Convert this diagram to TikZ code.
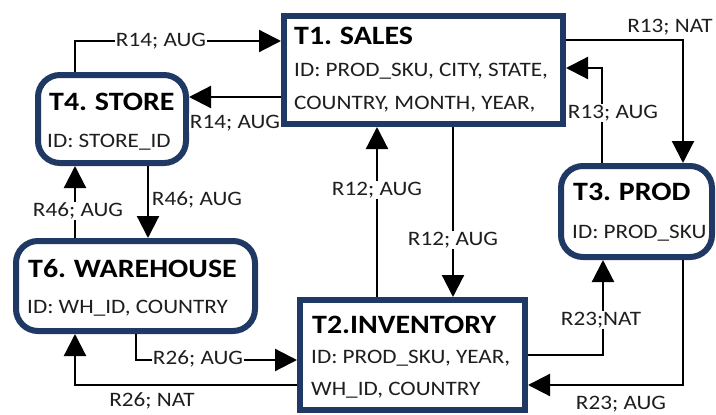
\documentclass[tikz,border=0pt]{standalone}
\usepackage{fontspec}
\setmainfont{Carlito}[FakeStretch=1.13]
\usetikzlibrary{arrows.meta}
\definecolor{boxblue}{RGB}{31,56,100}
\definecolor{txt}{RGB}{30,30,30}
\newcommand\myttlfont{\fontsize{26.5}{30}\selectfont\bfseries\spaceskip 5.5pt\relax}
\tikzset{
  tbox/.style={draw=boxblue, line width=6pt, fill=white, inner sep=0pt, minimum width=#1},
  sqbox/.style={tbox=#1},
  rdbox/.style={tbox=#1, rounded corners=22pt},
  ttl/.style={anchor=base west, inner sep=0pt, font=\myttlfont, text=black},
  idt/.style={anchor=base west, inner sep=0pt, font=\fontsize{20.5}{24}\selectfont, text=txt},
  lbl/.style={fill=white, inner sep=1pt, font=\fontsize{20.5}{24}\selectfont, text=txt},
  conn/.style={line width=2.2pt, draw=black, -{Triangle[length=22pt,width=22pt]}},
}
\begin{document}
\begin{tikzpicture}[x=1pt,y=-1pt]
\useasboundingbox (0,0) rectangle (716,415);
% boxes
\node[sqbox=279pt, minimum height=108pt] (t1) at (423.5,70) {};
\node[rdbox=148pt, minimum height=88pt] (t4) at (112,119) {};
\node[rdbox=239pt, minimum height=90pt] (t6) at (135.5,286) {};
\node[sqbox=225pt, minimum height=110pt] (t2) at (412.5,355) {};
\node[rdbox=151pt, minimum height=91pt] (t3) at (636.5,211.5) {};
% texts
\node[ttl] (t1a) at (294,45) {T1. SALES};
\node[idt] (t1b) at (294,76) {ID: PROD\_SKU, CITY, STATE,};
\node[idt] (t1c) at (294,109) {COUNTRY, MONTH, YEAR,};
\node[ttl] (t4a) at (49,110) {T4. STORE};
\node[idt] (t4b) at (47,147) {ID: STORE\_ID};
\node[ttl] (t6a) at (28,277) {T6. WAREHOUSE};
\node[idt] (t6b) at (27,313) {ID: WH\_ID, COUNTRY};
\node[ttl] (t2a) at (312,333) {T2.INVENTORY};
\node[idt] (t2b) at (311,363) {ID: PROD\_SKU, YEAR,};
\node[idt] (t2c) at (311,395) {WH\_ID, COUNTRY};
\node[ttl] (t3a) at (573,200) {T3. PROD};
\node[idt] (t3b) at (572,238) {ID: PROD\_SKU};
% bend coordinates
\coordinate (c1) at (75,41);
\coordinate (c2) at (188,97);
\coordinate (c3) at (683,40);
\coordinate (c4) at (602,68);
\coordinate (c5) at (377,200);
\coordinate (c6) at (453,200);
\coordinate (c7) at (603,355);
\coordinate (c8) at (683,385);
\coordinate (c9) at (75,200);
\coordinate (c10) at (148,200);
\coordinate (c11) at (136,360);
\coordinate (c12) at (75,385);
% connectors
\draw[conn] (t4.north -| c1) |- (t1.west |- c1);
\draw[conn] (t1.west |- c2) -- (t4.east |- c2);
\draw[conn] (t1.east |- c3) -| (t3.north -| c3);
\draw[conn] (t3.north -| c4) |- (t1.east |- c4);
\draw[conn] (t2.north -| c5) -- (t1.south -| c5);
\draw[conn] (t1.south -| c6) -- (t2.north -| c6);
\draw[conn] (t2.east |- c7) -| (t3.south -| c7);
\draw[conn] (t3.south -| c8) |- (t2.east |- c8);
\draw[conn] (t6.north -| c9) -- (t4.south -| c9);
\draw[conn] (t4.south -| c10) -- (t6.north -| c10);
\draw[conn] (t6.south -| c11) |- (t2.west |- c11);
\draw[conn] (t2.west |- c12) -| (t6.south -| c12);
% labels
\node[lbl] (l1) at (161,41) {R14; AUG};
\node[lbl] (l2) at (235,123) {R14; AUG};
\node[lbl] (l3) at (670,27) {R13; NAT};
\node[lbl] (l4) at (613,113) {R13; AUG};
\node[lbl] (l5) at (377,190) {R12; AUG};
\node[lbl] (l6) at (453,240) {R12; AUG};
\node[lbl] (l7) at (601,320) {R23;NAT};
\node[lbl] (l8) at (621,404) {R23; AUG};
\node[lbl] (l9) at (78,211) {R46; AUG};
\node[lbl] (l10) at (197,200) {R46; AUG};
\node[lbl] (l11) at (198,359) {R26; AUG};
\node[lbl] (l12) at (152,401) {R26; NAT};
\end{tikzpicture}
\end{document}
